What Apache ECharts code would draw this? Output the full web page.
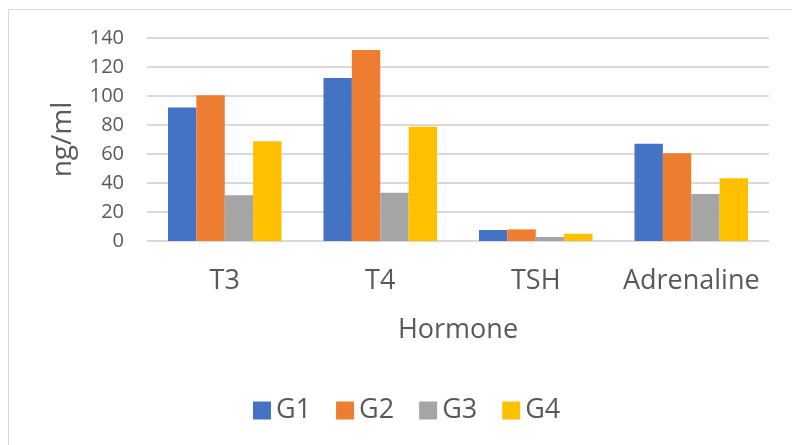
<!DOCTYPE html>
<html>
<head>
<meta charset="utf-8">
<script src="https://cdn.jsdelivr.net/npm/echarts@6/dist/echarts.min.js"></script>
<style>
html,body{margin:0;padding:0;background:#fff;}
#chart{width:792px;height:445px;}
</style>
</head>
<body>
<div id="chart"></div>
<script>
const categories = ['T3', 'T4', 'TSH', 'Adrenaline'];
const seriesNames = ['G1', 'G2', 'G3', 'G4'];
const g1 = [92, 112.5, 7.6, 67];
const g2 = [100.5, 131.8, 8, 60.5];
const g3 = [31.5, 33.2, 2.8, 32.4];
const g4 = [68.8, 78.8, 5, 43.2];
const colors = ['#4472C4', '#ED7D31', '#A5A5A5', '#FFC000'];
const yTicks = { min: 0, max: 140, interval: 20 };

const values = [g1, g2, g3, g4];
const font = 'Open Sans';
const textColor = '#595959';

const chart = echarts.init(document.getElementById('chart'), null, { renderer: 'canvas' });
chart.setOption({
  animation: false,
  backgroundColor: '#fff',
  textStyle: { fontFamily: font, color: textColor },
  graphic: [{
    type: 'rect',
    shape: { x: 8.5, y: 9.5, width: 900, height: 600 },
    style: { fill: 'none', stroke: '#d9d9d9', lineWidth: 1 },
    silent: true
  }],
  grid: { left: 147, right: 23, top: 38, bottom: 204, containLabel: false },
  legend: {
    data: seriesNames,
    bottom: 16,
    left: 248,
    itemWidth: 18,
    itemHeight: 18,
    itemGap: 25,
    icon: 'rect',
    textStyle: { fontFamily: font, fontSize: 27, color: textColor }
  },
  xAxis: {
    type: 'category',
    data: categories,
    name: 'Hormone',
    nameLocation: 'middle',
    nameGap: 76,
    nameTextStyle: { fontFamily: font, fontSize: 27, color: textColor },
    axisLine: { show: false },
    axisTick: { show: false },
    axisLabel: { interval: 0, fontFamily: font, fontSize: 27, color: textColor, margin: 27 }
  },
  yAxis: {
    type: 'value',
    min: yTicks.min,
    max: yTicks.max,
    interval: yTicks.interval,
    name: 'ng/ml',
    nameLocation: 'middle',
    nameGap: 70,
    nameRotate: 90,
    nameTextStyle: { fontFamily: font, fontSize: 28, color: textColor },
    axisLine: { show: false },
    axisTick: { show: false },
    axisLabel: { fontFamily: font, fontSize: 20, color: textColor, margin: 23 },
    splitLine: { lineStyle: { color: '#d9d9d9', width: 2 } }
  },
  series: seriesNames.map((n, i) => ({
    name: n,
    type: 'bar',
    data: values[i],
    barGap: '0%',
    barCategoryGap: '27%',
    itemStyle: { color: colors[i] }
  }))
});
</script>
</body>
</html>
